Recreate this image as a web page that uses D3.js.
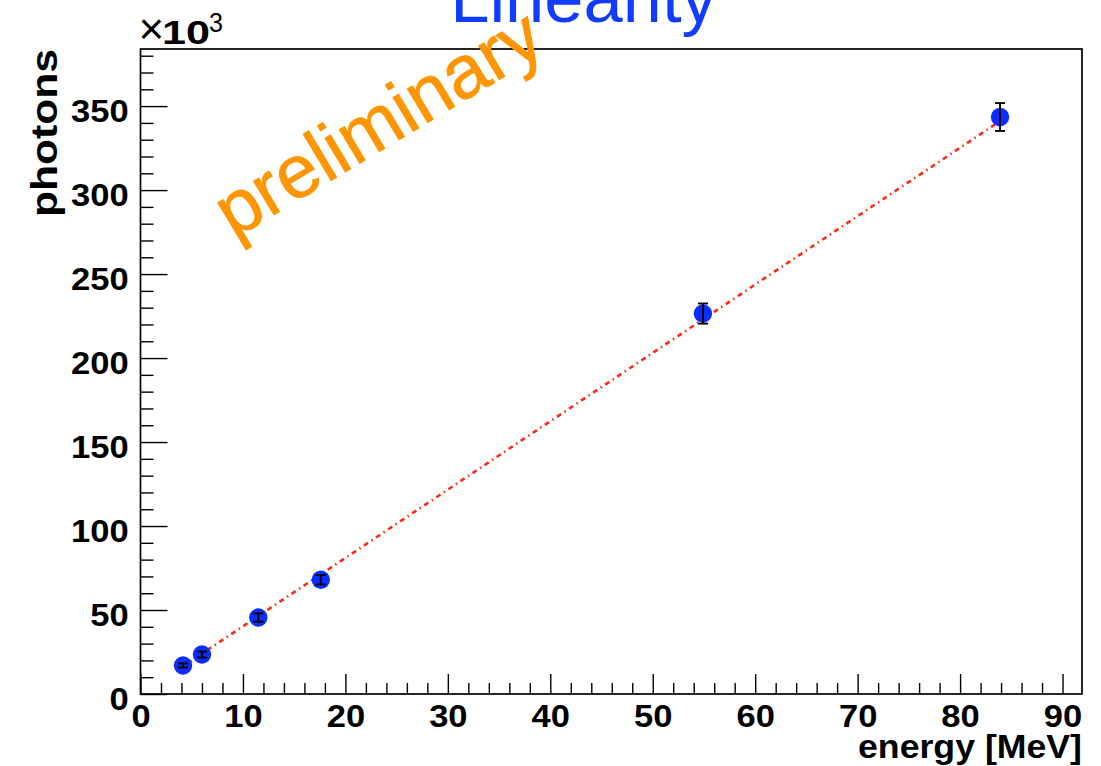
<!DOCTYPE html>
<html>
<head>
<meta charset="utf-8">
<script src="https://cdn.jsdelivr.net/npm/d3@7"></script>
<style>
  html, body { margin: 0; padding: 0; background: #fff; }
  svg { display: block; }
  text { font-family: "Liberation Sans", Arial, Helvetica, sans-serif; }
</style>
</head>
<body>
<svg id="chart" width="1101" height="766"></svg>
<script>
// ---- data ----
const energy  = [4.15, 6.0, 11.5, 17.6, 54.9, 83.9];          // MeV
const photons = [17.0, 23.5, 45.5, 68.0, 226.5, 343.5];       // x10^3
const errors  = [1.2, 1.8, 2.5, 2.8, 6.0, 8.3];               // x10^3
const fitSlope = 4.07, fitIntercept = -0.4;
const fitRange = [4.15, 83.9];
const xMajorTicks = [0, 10, 20, 30, 40, 50, 60, 70, 80, 90];
const yMajorTicks = [0, 50, 100, 150, 200, 250, 300, 350];
const titleText = "Linearity";
const xTitle = "energy [MeV]";
const yTitle = "photons";
const watermark = "preliminary";

// ---- layout ----
const svg = d3.select("#chart");
const L = 140.5, R = 1082, T = 49, B = 694;
const x = d3.scaleLinear().domain([0, 91.9]).range([L, R]);
const y = d3.scaleLinear().domain([0, 384]).range([B, T]);

const xMinor = d3.range(0, 92, 2).filter(v => v % 10 !== 0);
const yMinor = d3.range(0, 384, 10).filter(v => v % 50 !== 0);

// minor ticks
svg.append("g").attr("transform", `translate(0,${B})`)
  .call(d3.axisBottom(x).tickValues(xMinor).tickSize(-11).tickFormat(""))
  .call(g => g.select(".domain").remove())
  .call(g => g.selectAll("line").attr("stroke", "#000").attr("stroke-width", 1.4));
svg.append("g").attr("transform", `translate(${L},0)`)
  .call(d3.axisLeft(y).tickValues(yMinor).tickSize(-13).tickFormat(""))
  .call(g => g.select(".domain").remove())
  .call(g => g.selectAll("line").attr("stroke", "#000").attr("stroke-width", 1.4));

// major ticks + labels
svg.append("g").attr("transform", `translate(0,${B})`)
  .call(d3.axisBottom(x).tickValues(xMajorTicks).tickSize(-20).tickPadding(10).tickFormat(d3.format("d")))
  .call(g => g.select(".domain").remove())
  .call(g => g.selectAll("line").attr("stroke", "#000").attr("stroke-width", 1.4))
  .call(g => g.selectAll("text").attr("fill", "#000").attr("font-size", 32).attr("font-weight", "bold")
    .attr("transform", "scale(1.08,1)")
    .attr("font-family", "Liberation Sans, Arial, sans-serif"));
svg.append("g").attr("transform", `translate(${L},0)`)
  .call(d3.axisLeft(y).tickValues(yMajorTicks).tickSize(-27).tickPadding(11).tickFormat(d3.format("d")))
  .call(g => g.select(".domain").remove())
  .call(g => g.selectAll("line").attr("stroke", "#000").attr("stroke-width", 1.4))
  .call(g => g.selectAll("text").attr("fill", "#000").attr("font-size", 32).attr("font-weight", "bold")
    .attr("dy", "0.48em").attr("transform", "scale(1.08,1)")
    .attr("font-family", "Liberation Sans, Arial, sans-serif"));

// frame
svg.append("rect").attr("x", L).attr("y", T).attr("width", R - L).attr("height", B - T)
  .attr("fill", "none").attr("stroke", "#000").attr("stroke-width", 1.7);

// fit line
const fitLine = d3.line().x(d => x(d)).y(d => y(fitSlope * d + fitIntercept));
svg.append("path").datum(fitRange).attr("d", fitLine)
  .attr("fill", "none").attr("stroke", "#ff2a14").attr("stroke-width", 2.6)
  .attr("stroke-dasharray", "5,4,1.5,4");

// points
const pts = energy.map((e, i) => ({ e, p: photons[i], err: errors[i] }));
svg.append("g").selectAll("circle").data(pts).join("circle")
  .attr("cx", d => x(d.e)).attr("cy", d => y(d.p)).attr("r", 9.2).attr("fill", "#0b2dff");
const eb = svg.append("g").attr("stroke", "#000").attr("stroke-width", 1.9);
eb.selectAll("line.v").data(pts).join("line").attr("class", "v")
  .attr("x1", d => x(d.e)).attr("x2", d => x(d.e))
  .attr("y1", d => y(d.p - d.err)).attr("y2", d => y(d.p + d.err));
eb.selectAll("line.t").data(pts).join("line").attr("class", "t")
  .attr("x1", d => x(d.e) - 5).attr("x2", d => x(d.e) + 5)
  .attr("y1", d => y(d.p + d.err)).attr("y2", d => y(d.p + d.err));
eb.selectAll("line.b").data(pts).join("line").attr("class", "b")
  .attr("x1", d => x(d.e) - 5).attr("x2", d => x(d.e) + 5)
  .attr("y1", d => y(d.p - d.err)).attr("y2", d => y(d.p - d.err));

// x10^3 label
svg.append("text").attr("x", L - 2).attr("y", 44).attr("font-size", 44).attr("fill", "#000").text("×");
svg.append("text").attr("x", 162).attr("y", 43.5).attr("font-size", 34).attr("font-weight", "bold")
  .attr("fill", "#000").attr("textLength", 48).attr("lengthAdjust", "spacingAndGlyphs").text("10");
svg.append("text").attr("x", 209).attr("y", 32).attr("font-size", 27)
  .attr("fill", "#000").attr("textLength", 14).attr("lengthAdjust", "spacingAndGlyphs").text("3");

// axis titles
svg.append("text").attr("x", R).attr("y", 758).attr("text-anchor", "end")
  .attr("font-size", 33).attr("font-weight", "bold").attr("fill", "#000")
  .attr("textLength", 224).attr("lengthAdjust", "spacingAndGlyphs").text(xTitle);
svg.append("text").attr("transform", `translate(57,${T}) rotate(-90)`).attr("text-anchor", "end")
  .attr("font-size", 37).attr("font-weight", "bold").attr("fill", "#000")
  .attr("textLength", 168).attr("lengthAdjust", "spacingAndGlyphs").text(yTitle);

// title
svg.append("text").attr("x", 583.5).attr("y", 22).attr("text-anchor", "middle")
  .attr("font-size", 70.5).attr("fill", "#0f3cff").text(titleText);

// watermark
svg.append("text").attr("transform", "translate(381,128) rotate(-31)")
  .attr("text-anchor", "middle").attr("y", 19.5)
  .attr("font-size", 75).attr("fill", "#ff9500").attr("stroke", "#ff9500").attr("stroke-width", 0.8)
  .text(watermark);
</script>
</body>
</html>
